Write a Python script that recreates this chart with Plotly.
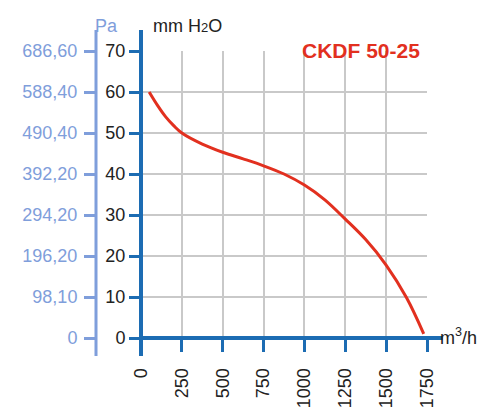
import plotly.graph_objects as go

# Data
flow_m3h = [50, 100, 150, 200, 250, 375, 500, 625, 750, 875, 1000, 1125, 1250, 1375, 1500, 1625, 1730]
pressure_mmH2O = [60, 56.8, 54, 51.8, 50, 47.3, 45.3, 43.7, 42, 40, 37.3, 33.7, 29, 24, 17.8, 9.8, 1]
x_ticks = [0, 250, 500, 750, 1000, 1250, 1500, 1750]
y_ticks = [0, 10, 20, 30, 40, 50, 60, 70]
pa_labels = ["0", "98,10", "196,20", "294,20", "392,20", "490,40", "588,40", "686,60"]
title_text = "CKDF 50-25"

# page body has an 8px margin; figure fills the rest of the 497x408 window
OFF = 8
W, H = 497 - OFF, 408 - OFF
BLUE = "#1c6cb3"
LBLUE = "#7f9edb"
RED = "#e2301f"
GRID = "#c9c9c9"
FONT = "Liberation Sans, Arial, sans-serif"

def px(x):
    return (x - OFF) / W

def py(y):
    return 1 - (y - OFF) / H

fig = go.Figure()
fig.add_trace(go.Scatter(x=flow_m3h, y=pressure_mmH2O, mode="lines",
                         line=dict(color=RED, width=3, shape="spline"),
                         hoverinfo="skip", showlegend=False))
# invisible trace for Pa axis
fig.add_trace(go.Scatter(x=[None], y=[None], yaxis="y2", showlegend=False))

fig.update_layout(
    width=W, height=H,
    margin=dict(l=0, r=0, t=0, b=0, autoexpand=False),
    paper_bgcolor="white", plot_bgcolor="white",
    font=dict(family=FONT, size=18, color="#222222"),
    xaxis=dict(domain=[px(141), px(427)], range=[0, 1750], automargin=False,
               tickvals=x_ticks, ticktext=[str(v) for v in x_ticks],
               tickangle=-90, ticks="outside", ticklen=13, tickwidth=3,
               tickcolor=BLUE, showgrid=True, gridcolor=GRID, gridwidth=2,
               zeroline=False, showline=False, ticklabelstandoff=9,
               tickfont=dict(size=18, color="#222222")),
    yaxis=dict(domain=[py(338), py(51)], range=[0, 70], automargin=False,
               tickvals=y_ticks, ticks="outside", ticklen=11, tickwidth=3,
               tickcolor=BLUE, showgrid=True, gridcolor=GRID, gridwidth=2,
               zeroline=False, showline=False,
               tickfont=dict(size=18, color="#222222")),
    yaxis2=dict(overlaying="y", anchor="free", position=px(96), side="left",
                range=[0, 70], tickvals=y_ticks, ticktext=pa_labels, automargin=False,
                ticks="outside", ticklen=12, tickwidth=3, tickcolor=LBLUE,
                showgrid=False, zeroline=False, showline=False,
                ticklabelstandoff=3,
                tickfont=dict(size=18, color=LBLUE)),
)

shapes = [
    dict(type="line", xref="paper", yref="paper", x0=px(141), x1=px(141),
         y0=py(30), y1=py(356), line=dict(color=BLUE, width=4)),
    dict(type="line", xref="paper", yref="paper", x0=px(139), x1=px(443),
         y0=py(338), y1=py(338), line=dict(color=BLUE, width=4)),
    dict(type="line", xref="paper", yref="paper", x0=px(96), x1=px(96),
         y0=py(30), y1=py(356), line=dict(color=LBLUE, width=3)),
]
fig.update_layout(shapes=shapes)

annotations = [
    dict(text="Pa", x=px(93), y=py(14), xref="paper", yref="paper",
         showarrow=False, font=dict(size=18, color=LBLUE)),
    dict(text="mm H<span style='font-size:13px'>2</span>O", x=px(151), y=py(14),
         xref="paper", yref="paper",
         showarrow=False, font=dict(size=18, color="#222222")),
    dict(text="<b>" + title_text + "</b>", x=px(422), y=py(37), xref="paper", yref="paper",
         xanchor="right", showarrow=False, font=dict(size=21, color=RED)),
    dict(text="m<sup>3</sup>/h", x=px(438), y=py(350), xref="paper", yref="paper",
         xanchor="left", showarrow=False, font=dict(size=18, color="#222222")),
]
fig.update_layout(annotations=annotations)

fig.write_html("out.html")
